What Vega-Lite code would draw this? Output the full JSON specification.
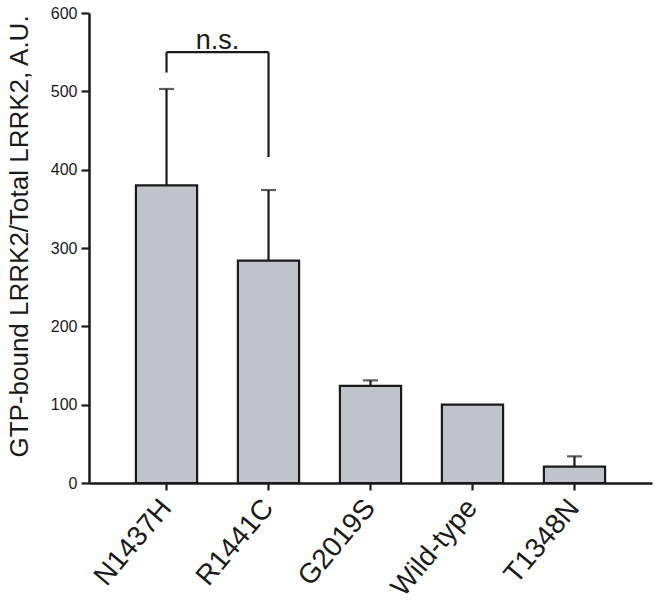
{
  "$schema": "https://vega.github.io/schema/vega-lite/v6.json",
  "width": 563,
  "height": 470,
  "autosize": {"type": "none"},
  "padding": {"left": 89, "top": 13, "right": 6, "bottom": 127},
  "background": "white",
  "config": {
    "view": {"stroke": null},
    "font": "Liberation Sans",
    "axis": {"labelFont": "Liberation Sans", "titleFont": "Liberation Sans", "grid": false, "domainColor": "#1a1a1a", "tickColor": "#1a1a1a", "labelColor": "#1a1a1a", "titleColor": "#1a1a1a"}
  },
  "datasets": {
    "bars": [
      {"mutant": "N1437H", "mean": 380, "upper": 503},
      {"mutant": "R1441C", "mean": 284, "upper": 374},
      {"mutant": "G2019S", "mean": 124, "upper": 131},
      {"mutant": "Wild-type", "mean": 100, "upper": 100},
      {"mutant": "T1348N", "mean": 21, "upper": 34}
    ],
    "bracket": [
      {"xa": "N1437H", "xb": "N1437H", "ya": 524, "yb": 550},
      {"xa": "R1441C", "xb": "R1441C", "ya": 416, "yb": 550},
      {"xa": "N1437H", "xb": "R1441C", "ya": 550, "yb": 550}
    ],
    "label": [
      {"xa": "N1437H", "ya": 550, "text": "n.s."}
    ]
  },
  "layer": [
    {
      "data": {"name": "bars"},
      "mark": {"type": "bar", "fill": "#c0c4ca", "stroke": "#1a1a1a", "strokeWidth": 2.2},
      "encoding": {
        "x": {
          "field": "mutant", "type": "nominal", "sort": null,
          "scale": {"paddingInner": 0.4, "paddingOuter": 0.46},
          "axis": {"title": null, "labelAngle": -50, "labelFontSize": 28, "labelPadding": 13, "tickSize": 7, "tickWidth": 2.2, "domainWidth": 2.5, "labelAlign": "right", "labelBaseline": "middle"}
        },
        "y": {
          "field": "mean", "type": "quantitative",
          "scale": {"domain": [0, 600], "nice": false},
          "axis": {"title": "GTP-bound LRRK2/Total LRRK2, A.U.", "values": [0, 100, 200, 300, 400, 500, 600], "labelFontSize": 16, "labelPadding": 4, "tickSize": 8, "tickWidth": 2.2, "domainWidth": 2.5, "titleFontSize": 26, "titleFontWeight": "normal", "titlePadding": 18, "titleY": 223}
        }
      }
    },
    {
      "data": {"name": "bars"},
      "transform": [{"filter": "datum.upper > datum.mean"}],
      "mark": {"type": "rule", "color": "#1a1a1a", "strokeWidth": 2.2},
      "encoding": {
        "x": {"field": "mutant", "type": "nominal", "sort": null},
        "y": {"field": "mean", "type": "quantitative"},
        "y2": {"field": "upper"}
      }
    },
    {
      "data": {"name": "bars"},
      "transform": [{"filter": "datum.upper > datum.mean"}],
      "mark": {"type": "tick", "color": "#1a1a1a", "size": 15, "thickness": 2.2},
      "encoding": {
        "x": {"field": "mutant", "type": "nominal", "sort": null},
        "y": {"field": "upper", "type": "quantitative"}
      }
    },
    {
      "data": {"name": "bracket"},
      "mark": {"type": "rule", "color": "#1a1a1a", "strokeWidth": 2.2},
      "encoding": {
        "x": {"field": "xa", "type": "nominal", "sort": null},
        "x2": {"field": "xb"},
        "y": {"field": "ya", "type": "quantitative"},
        "y2": {"field": "yb"}
      }
    },
    {
      "data": {"name": "label"},
      "mark": {"type": "text", "fontSize": 27, "color": "#1a1a1a", "align": "center", "baseline": "alphabetic", "dx": 51, "dy": -3},
      "encoding": {
        "x": {"field": "xa", "type": "nominal", "sort": null},
        "y": {"field": "ya", "type": "quantitative"},
        "text": {"field": "text"}
      }
    }
  ]
}
